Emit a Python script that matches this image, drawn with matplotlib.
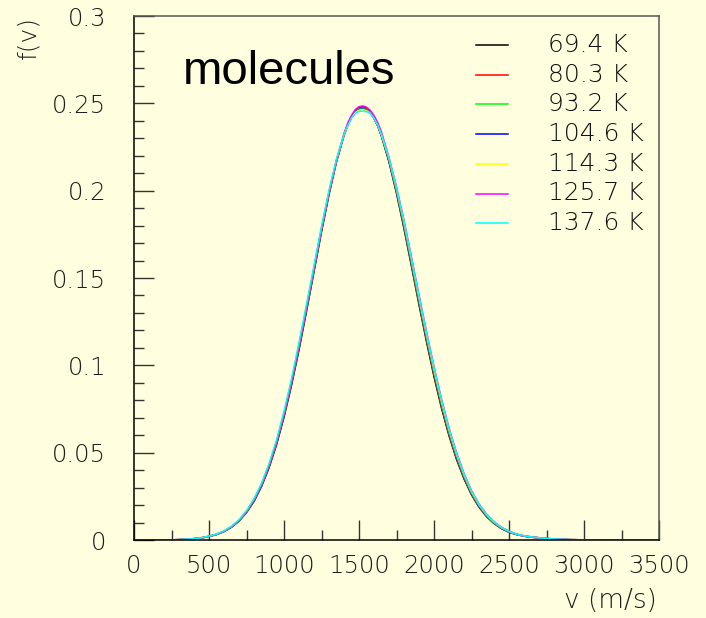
import matplotlib
matplotlib.use("Agg")
import matplotlib.pyplot as plt
from matplotlib.lines import Line2D
from matplotlib.ticker import MultipleLocator, FixedLocator, FixedFormatter

# speed grid (m/s)
v = [0, 200, 250, 300, 350, 400, 450, 500, 550, 600,
     650, 700, 750, 800, 850, 900, 950, 1000, 1050, 1100,
     1150, 1200, 1250, 1300, 1350, 1400, 1425, 1450, 1475, 1500,
     1525, 1550, 1575, 1600, 1625, 1650, 1700, 1750, 1800, 1850,
     1900, 1950, 2000, 2050, 2100, 2150, 2200, 2250, 2300, 2350,
     2400, 2450, 2500, 2550, 2600, 2650, 2700, 2750, 2800, 2900,
     3000, 3200, 3500]

temps = ["69.4 K", "80.3 K", "93.2 K", "104.6 K", "114.3 K", "125.7 K", "137.6 K"]

f_694 = [0, 0, 0.0001, 0.0002, 0.0004, 0.0007, 0.0012, 0.0020, 0.0031, 0.0048,
         0.0073, 0.0108, 0.0157, 0.0221, 0.0306, 0.0413, 0.0545, 0.0703, 0.0885, 0.1088,
         0.1309, 0.1536, 0.1764, 0.1977, 0.2166, 0.2317, 0.2377, 0.2423, 0.2457, 0.2476,
         0.2481, 0.2472, 0.2450, 0.2415, 0.2370, 0.2311, 0.2164, 0.1985, 0.1782, 0.1566,
         0.1347, 0.1135, 0.0935, 0.0755, 0.0597, 0.0462, 0.0350, 0.0259, 0.0188, 0.0134,
         0.0094, 0.0065, 0.0044, 0.0031, 0.0022, 0.0016, 0.0012, 0.0008, 0.0005, 0.0002,
         0.0001, 0, 0]
f_803 = [0, 0, 0.0001, 0.0002, 0.0004, 0.0007, 0.0012, 0.0020, 0.0032, 0.0049,
         0.0074, 0.0110, 0.0159, 0.0224, 0.0310, 0.0418, 0.0551, 0.0710, 0.0893, 0.1097,
         0.1317, 0.1543, 0.1770, 0.1982, 0.2169, 0.2318, 0.2376, 0.2421, 0.2454, 0.2472,
         0.2476, 0.2468, 0.2448, 0.2415, 0.2371, 0.2313, 0.2169, 0.1992, 0.1791, 0.1576,
         0.1357, 0.1146, 0.0946, 0.0764, 0.0605, 0.0469, 0.0356, 0.0263, 0.0191, 0.0137,
         0.0096, 0.0066, 0.0045, 0.0032, 0.0022, 0.0016, 0.0012, 0.0008, 0.0005, 0.0002,
         0.0001, 0, 0]
f_932 = [0, 0, 0.0001, 0.0002, 0.0004, 0.0007, 0.0012, 0.0021, 0.0032, 0.0050,
         0.0075, 0.0111, 0.0161, 0.0227, 0.0314, 0.0423, 0.0557, 0.0717, 0.0901, 0.1105,
         0.1325, 0.1550, 0.1777, 0.1987, 0.2172, 0.2319, 0.2376, 0.2420, 0.2451, 0.2467,
         0.2471, 0.2464, 0.2446, 0.2415, 0.2372, 0.2316, 0.2174, 0.1999, 0.1800, 0.1585,
         0.1367, 0.1156, 0.0956, 0.0774, 0.0613, 0.0476, 0.0361, 0.0268, 0.0195, 0.0139,
         0.0098, 0.0068, 0.0046, 0.0032, 0.0023, 0.0017, 0.0012, 0.0008, 0.0005, 0.0002,
         0.0001, 0, 0]
f_1046 = [0, 0, 0.0001, 0.0002, 0.0005, 0.0008, 0.0013, 0.0021, 0.0033, 0.0050,
          0.0076, 0.0112, 0.0163, 0.0229, 0.0316, 0.0426, 0.0561, 0.0722, 0.0906, 0.1112,
          0.1332, 0.1556, 0.1782, 0.1991, 0.2174, 0.2320, 0.2375, 0.2419, 0.2449, 0.2464,
          0.2467, 0.2462, 0.2445, 0.2414, 0.2373, 0.2318, 0.2177, 0.2004, 0.1806, 0.1592,
          0.1375, 0.1164, 0.0964, 0.0781, 0.0620, 0.0481, 0.0365, 0.0271, 0.0197, 0.0141,
          0.0100, 0.0069, 0.0047, 0.0033, 0.0023, 0.0017, 0.0013, 0.0009, 0.0006, 0.0002,
          0.0001, 0, 0]
f_1143 = [0, 0, 0.0001, 0.0002, 0.0005, 0.0008, 0.0013, 0.0021, 0.0033, 0.0051,
          0.0077, 0.0114, 0.0165, 0.0232, 0.0319, 0.0430, 0.0565, 0.0727, 0.0912, 0.1118,
          0.1338, 0.1561, 0.1786, 0.1995, 0.2177, 0.2321, 0.2375, 0.2417, 0.2447, 0.2461,
          0.2464, 0.2459, 0.2444, 0.2414, 0.2374, 0.2319, 0.2181, 0.2009, 0.1813, 0.1600,
          0.1383, 0.1172, 0.0972, 0.0788, 0.0626, 0.0487, 0.0370, 0.0274, 0.0200, 0.0143,
          0.0101, 0.0070, 0.0048, 0.0033, 0.0023, 0.0017, 0.0013, 0.0009, 0.0006, 0.0002,
          0.0001, 0, 0]
f_1257 = [0, 0, 0.0001, 0.0002, 0.0005, 0.0008, 0.0013, 0.0021, 0.0033, 0.0050,
          0.0077, 0.0113, 0.0164, 0.0230, 0.0317, 0.0427, 0.0562, 0.0723, 0.0908, 0.1114,
          0.1334, 0.1558, 0.1783, 0.1993, 0.2175, 0.2326, 0.2388, 0.2431, 0.2464, 0.2481,
          0.2485, 0.2478, 0.2460, 0.2430, 0.2390, 0.2335, 0.2190, 0.2022, 0.1830, 0.1619,
          0.1403, 0.1193, 0.0993, 0.0807, 0.0642, 0.0501, 0.0381, 0.0283, 0.0207, 0.0148,
          0.0105, 0.0073, 0.0050, 0.0034, 0.0024, 0.0018, 0.0013, 0.0009, 0.0006, 0.0002,
          0.0001, 0, 0]
f_1376 = [0, 0, 0.0001, 0.0002, 0.0005, 0.0008, 0.0013, 0.0022, 0.0034, 0.0052,
          0.0079, 0.0116, 0.0168, 0.0236, 0.0325, 0.0437, 0.0574, 0.0737, 0.0924, 0.1131,
          0.1350, 0.1572, 0.1796, 0.2003, 0.2181, 0.2322, 0.2374, 0.2415, 0.2442, 0.2454,
          0.2456, 0.2453, 0.2441, 0.2414, 0.2375, 0.2323, 0.2188, 0.2019, 0.1826, 0.1614,
          0.1398, 0.1188, 0.0988, 0.0802, 0.0638, 0.0497, 0.0378, 0.0281, 0.0205, 0.0147,
          0.0104, 0.0072, 0.0049, 0.0034, 0.0024, 0.0018, 0.0013, 0.0009, 0.0006, 0.0002,
          0.0001, 0, 0]

series = [f_694, f_803, f_932, f_1046, f_1143, f_1257, f_1376]
colors = ["black", "#ff0000", "#00ff00", "#0000ff", "#ffff00", "#ff00ff", "#00ffff"]

yticks = [0, 0.05, 0.1, 0.15, 0.2, 0.25, 0.3]
ytick_labels = ["0", "0.05", "0.1", "0.15", "0.2", "0.25", "0.3"]

bg = "#ffffe0"
ink = "#1e1e1e"
W, H = 706, 618
root_font = dict(family="DejaVu Sans", weight=200)

fig = plt.figure(figsize=(W / 100, H / 100), dpi=100, facecolor=bg)
ax = fig.add_axes([134 / W, 78 / H, 525 / W, 524 / H])
ax.set_facecolor(bg)

for f, c in zip(series, colors):
    ax.plot(v, f, color=c, lw=1.1)

ax.set_xlim(0, 3500)
ax.set_ylim(0, 0.3)

ax.xaxis.set_major_locator(MultipleLocator(500))
ax.xaxis.set_minor_locator(MultipleLocator(250))
ax.yaxis.set_major_locator(FixedLocator(yticks))
ax.yaxis.set_major_formatter(FixedFormatter(ytick_labels))
ax.yaxis.set_minor_locator(MultipleLocator(0.01))

ax.tick_params(which="both", direction="in", top=False, right=False,
               color="#333333", width=1.0)
ax.tick_params(which="major", length=14.4)
ax.tick_params(which="minor", length=7.2)
ax.tick_params(axis="x", which="major", pad=10, labelcolor=ink)
ax.tick_params(axis="y", which="major", pad=20, labelcolor=ink)
for lab in ax.get_xticklabels() + ax.get_yticklabels():
    lab.set_fontsize(17.5)
    lab.set_fontweight(200)

for side in ["left", "bottom"]:
    ax.spines[side].set_color("black")
    ax.spines[side].set_linewidth(1.1)
for side in ["top", "right"]:
    ax.spines[side].set_color("#555555")
    ax.spines[side].set_linewidth(1.1)

# axis titles sit at the far ends of the axes
fig.text(28 / W, 1 - 16 / H, "f(v)", rotation=90, ha="center", va="top",
         fontsize=18, color=ink, **root_font)
fig.text(657 / W, 1 - 601 / H, "v (m/s)", ha="right", va="center",
         fontsize=19, color=ink, **root_font)

fig.text(183 / W, 1 - 72 / H, "molecules", ha="left", va="center",
         fontsize=34, family="Liberation Sans", color="black")

# legend entries
for i, (lab, c) in enumerate(zip(temps, colors)):
    y = 1 - (45 + i * 29.7) / H
    fig.add_artist(Line2D([476 / W, 508 / W], [y, y], transform=fig.transFigure,
                          color=c, lw=1.1))
    fig.text(548 / W, y, lab, ha="left", va="center", fontsize=18,
             color="#111111", **root_font)

fig.savefig("out.png", dpi=100, facecolor=bg)
